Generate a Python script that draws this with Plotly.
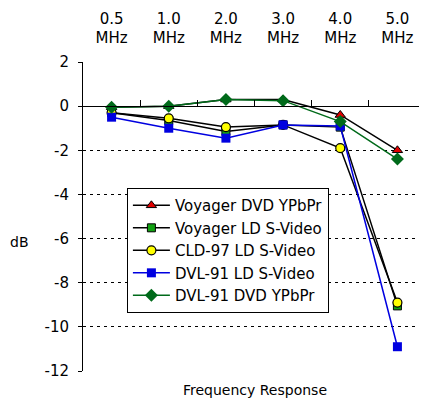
import plotly.graph_objects as go

categories = ["0.5<br>MHz", "1.0<br>MHz", "2.0<br>MHz", "3.0<br>MHz", "4.0<br>MHz", "5.0<br>MHz"]
y_ticks = [2, 0, -2, -4, -6, -8, -10, -12]
y_tick_labels = ["2", "0", "-2", "-4", "-6", "-8", "-10", "-12"]

voyager_dvd_ypbpr = [-0.05, 0.0, 0.3, 0.3, -0.4, -2.0]
voyager_ld_svideo = [-0.3, -0.65, -1.15, -0.85, -0.95, -9.05]
cld97_ld_svideo = [-0.3, -0.55, -0.95, -0.85, -1.9, -8.9]
dvl91_ld_svideo = [-0.5, -1.0, -1.45, -0.85, -0.9, -10.9]
dvl91_dvd_ypbpr = [-0.05, 0.0, 0.3, 0.25, -0.7, -2.4]

FONT = "DejaVu Sans"

series = [
    ("Voyager DVD YPbPr", voyager_dvd_ypbpr, "black",
     dict(symbol="triangle-up", color="#e00000", size=9, line=dict(color="black", width=1))),
    ("Voyager LD S-Video", voyager_ld_svideo, "black",
     dict(symbol="square", color="#10a010", size=8, line=dict(color="black", width=1))),
    ("CLD-97 LD S-Video", cld97_ld_svideo, "black",
     dict(symbol="circle", color="#ffff00", size=9, line=dict(color="black", width=1.2))),
    ("DVL-91 LD S-Video", dvl91_ld_svideo, "#0000e0",
     dict(symbol="square", color="#0000e0", size=9, line=dict(width=0))),
    ("DVL-91 DVD YPbPr", dvl91_dvd_ypbpr, "#006a1a",
     dict(symbol="diamond", color="#006a1a", size=10, line=dict(width=0))),
]

fig = go.Figure()
for name, vals, lcolor, marker in series:
    fig.add_trace(go.Scatter(
        x=categories, y=vals, name=name, mode="lines+markers",
        line=dict(color=lcolor, width=1.5), marker=marker,
    ))

# axis line across y=0 with ticks between categories, plus right-hand tick stubs
fig.add_trace(go.Scatter(x=[None], y=[None], xaxis="x2", showlegend=False))
fig.add_trace(go.Scatter(x=[None], y=[None], yaxis="y2", showlegend=False))

# page body has an 8px margin, so margins are shifted to keep the plot in place
fig.update_layout(
    width=427, height=406,
    margin=dict(l=75, r=9, t=54, b=43),
    paper_bgcolor="white", plot_bgcolor="white",
    font=dict(family=FONT, size=14, color="black"),
    showlegend=True,
    legend=dict(
        x=0.128, y=0.592, xanchor="left", yanchor="top",
        bgcolor="white", bordercolor="black", borderwidth=1,
        font=dict(size=15), tracegroupgap=0, itemwidth=37,
    ),
    xaxis=dict(
        type="category", side="top", showgrid=False, showline=False,
        ticks="", tickfont=dict(size=15), range=[-0.5, 5.5],
        ticklabelstandoff=15, automargin=False,
    ),
    xaxis2=dict(
        overlaying="x", anchor="free", position=12 / 14, range=[-0.5, 5.5],
        showline=True, linecolor="black", linewidth=1,
        tickvals=[0.5, 1.5, 2.5, 3.5, 4.5, 5.5], ticks="inside", ticklen=6,
        tickcolor="black", showticklabels=False, showgrid=False, zeroline=False,
        automargin=False,
    ),
    yaxis=dict(
        range=[-12, 2], tickvals=y_ticks, ticktext=y_tick_labels,
        showline=True, linecolor="black", linewidth=1,
        ticks="outside", ticklen=4, tickcolor="black",
        showgrid=True, gridcolor="black", griddash="3px,4px", gridwidth=1,
        zeroline=False, tickfont=dict(size=15), ticklabelstandoff=6,
        automargin=False,
    ),
    yaxis2=dict(
        overlaying="y", side="right", range=[-12, 2], tickvals=y_ticks,
        ticks="inside", ticklen=3, tickwidth=2, tickcolor="black",
        showticklabels=False, showgrid=False, zeroline=False, showline=False,
        automargin=False,
    ),
    annotations=[
        dict(text="dB", xref="paper", yref="paper", x=-0.184, y=0.417,
             xanchor="center", yanchor="middle", showarrow=False, font=dict(size=14)),
        dict(text="Frequency Response", xref="paper", yref="paper", x=0.5, y=-0.062,
             xanchor="center", yanchor="middle", showarrow=False, font=dict(size=14)),
    ],
)

fig.write_html("out.html")
